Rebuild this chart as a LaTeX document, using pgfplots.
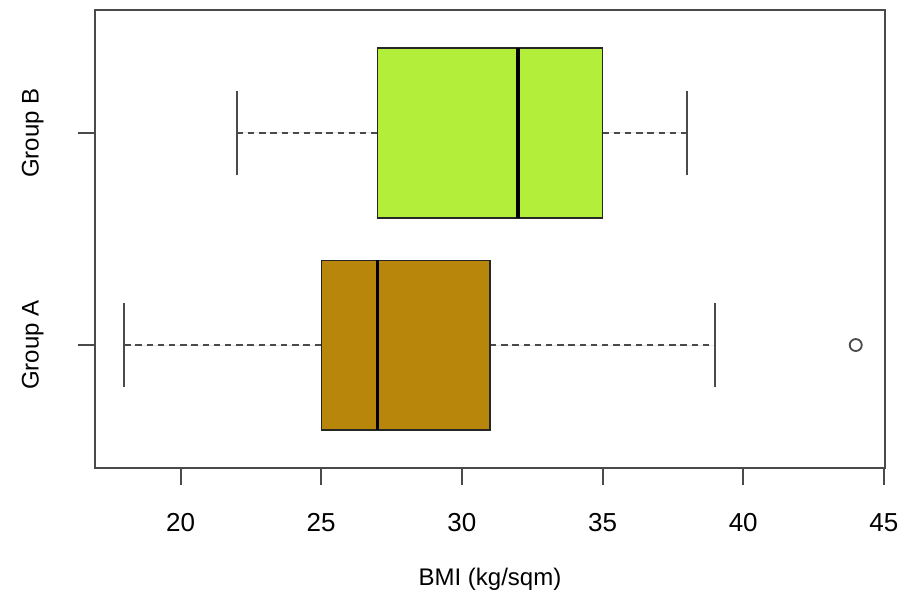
\documentclass[border=0pt]{standalone}
\usepackage{pgfplots}
\pgfplotsset{compat=1.18}
\usepgfplotslibrary{statistics}
\usepackage{fontspec}
\setmainfont{Liberation Sans}
\definecolor{grpA}{HTML}{B8860B}
\definecolor{grpB}{HTML}{B3EE3A}
\definecolor{axgray}{HTML}{4A4A4A}
\begin{document}
\fontsize{12}{14}\selectfont
\begin{tikzpicture}
\begin{axis}[
  name=ax,
  scale only axis,
  width=395pt, height=229pt,
  xmin=16.96, xmax=45.04,
  ymin=0.42, ymax=2.58,
  axis line style={axgray, line width=1pt},
  xtick={20,25,30,35,40,45},
  ytick={1,2},
  yticklabels={Group A, Group B},
  yticklabel style={rotate=90, anchor=south, font=\fontsize{12}{14}\selectfont},
  yticklabel shift=13pt,
  xticklabel style={font=\fontsize{13}{15}\selectfont},
  xticklabel shift=10pt,
  /pgf/number format/assume math mode=true,
  tick align=outside,
  tick pos=left,
  major tick length=8.5pt,
  tick style={axgray, line width=1pt},
  xlabel={BMI (kg/sqm)},
  xlabel style={font=\fontsize{12}{14}\selectfont, yshift=-10pt},
  boxplot/draw direction=x,
  boxplot/box extend=0.8,
  boxplot/whisker extend=0.4,
  boxplot/draw/lower whisker/.code={
    \draw[axgray, line width=1pt, dash pattern=on 3.2pt off 2.4pt]
      (boxplot box cs:\pgfplotsboxplotvalue{lower whisker},0.5) --
      (boxplot box cs:\pgfplotsboxplotvalue{lower quartile},0.5);
    \draw[axgray, line width=1pt]
      (boxplot whisker cs:\pgfplotsboxplotvalue{lower whisker},0) --
      (boxplot whisker cs:\pgfplotsboxplotvalue{lower whisker},1);
  },
  boxplot/draw/upper whisker/.code={
    \draw[axgray, line width=1pt, dash pattern=on 3.2pt off 2.4pt]
      (boxplot box cs:\pgfplotsboxplotvalue{upper quartile},0.5) --
      (boxplot box cs:\pgfplotsboxplotvalue{upper whisker},0.5);
    \draw[axgray, line width=1pt]
      (boxplot whisker cs:\pgfplotsboxplotvalue{upper whisker},0) --
      (boxplot whisker cs:\pgfplotsboxplotvalue{upper whisker},1);
  },
  boxplot/every median/.style={black, line width=1.8pt},
]
\addplot[draw=black!85, line width=0.7pt, fill=grpA,
  mark=o, mark size=3pt, mark options={axgray, line width=0.9pt, fill=none},
  boxplot prepared={draw position=1, median=27, lower quartile=25,
    upper quartile=31, lower whisker=18, upper whisker=39}]
  coordinates {(0,44)};
\addplot[draw=black!85, line width=0.7pt, fill=grpB,
  boxplot prepared={draw position=2, median=32, lower quartile=27,
    upper quartile=35, lower whisker=22, upper whisker=38}]
  coordinates {};
\end{axis}
\pgfresetboundingbox
\path[use as bounding box] ([xshift=-47.5pt,yshift=-61.5pt]ax.south west)
  rectangle ([xshift=11.5pt,yshift=5pt]ax.north east);
\end{tikzpicture}
\end{document}
